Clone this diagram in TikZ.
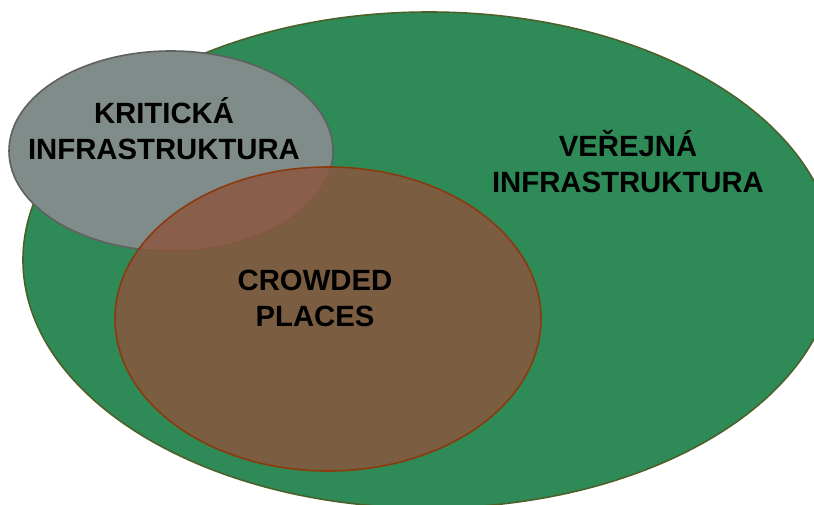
\documentclass[tikz,border=0pt]{standalone}
\usepackage{fontspec}
\setmainfont{Liberation Sans}
\definecolor{setgreen}{RGB}{46,139,87}
\definecolor{greenedge}{RGB}{76,96,42}
\definecolor{setgray}{RGB}{127,140,137}
\definecolor{grayedge}{RGB}{96,96,96}
\definecolor{setbrown}{RGB}{140,84,62}
\definecolor{brownedge}{RGB}{138,58,14}
\tikzset{
  setarea/.style = {line width=1.6pt},
  verejna_set/.style = {setarea, fill=setgreen, draw=greenedge},
  kriticka_set/.style = {setarea, fill=setgray, draw=grayedge},
  crowded_set/.style = {setarea, fill=setbrown, fill opacity=0.82, draw=brownedge},
  setlabel/.style = {align=center, inner sep=0pt, text=black, font=\fontsize{29.3}{36}\selectfont\bfseries},
}
\begin{document}
\begin{tikzpicture}[x=1pt, y=-1pt]
  \useasboundingbox (0,0) rectangle (814,505);
  \clip (0,0) rectangle (814,505);
  \draw [verejna_set] (429,260) ellipse [x radius=406, y radius=248];
  \draw [kriticka_set] (171,151) ellipse [x radius=162, y radius=100];
  \draw [crowded_set] (328,319) ellipse [x radius=213, y radius=152];
  \node [setlabel] (kriticka) at (164,129) {KRITICKÁ\\INFRASTRUKTURA};
  \node [setlabel] (verejna) at (628,162) {VEŘEJNÁ\\INFRASTRUKTURA};
  \node [setlabel] (crowded) at (315,298.5) {CROWDED\\PLACES};
\end{tikzpicture}
\end{document}
